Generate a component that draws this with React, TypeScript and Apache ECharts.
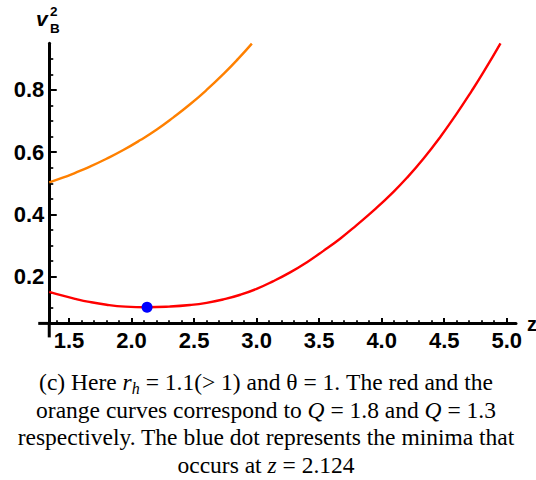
import React, { useEffect, useRef } from "react";
import * as echarts from "echarts";

// Q = 1.8 (red)
const redZ = [1.342, 1.45, 1.55, 1.65, 1.8, 1.95, 2.124, 2.3, 2.468, 2.6, 2.734, 2.87, 3.0, 3.13, 3.268, 3.4, 3.534, 3.67, 3.8, 3.95, 4.08, 4.2, 4.335, 4.47, 4.6, 4.72, 4.815, 4.95];
const redV = [0.151, 0.139, 0.129, 0.12, 0.11, 0.104, 0.102, 0.104, 0.109, 0.116, 0.127, 0.142, 0.161, 0.185, 0.214, 0.246, 0.283, 0.323, 0.366, 0.418, 0.467, 0.517, 0.58, 0.65, 0.724, 0.797, 0.858, 0.95];
// Q = 1.3 (orange)
const orangeZ = [1.342, 1.45, 1.55, 1.668, 1.8, 1.934, 2.07, 2.202, 2.335, 2.468, 2.6, 2.734, 2.85, 2.962];
const orangeV = [0.503, 0.518, 0.534, 0.554, 0.579, 0.607, 0.639, 0.673, 0.712, 0.754, 0.8, 0.851, 0.899, 0.949];
// minimum
const minZ = [2.124];
const minV = [0.102];

const xMajorTicks = [1.5, 2.0, 2.5, 3.0, 3.5, 4.0, 4.5, 5.0];
const xMinorTicks = [1.4, 1.6, 1.7, 1.8, 1.9, 2.1, 2.2, 2.3, 2.4, 2.6, 2.7, 2.8, 2.9, 3.1, 3.2, 3.3, 3.4, 3.6, 3.7, 3.8, 3.9, 4.1, 4.2, 4.3, 4.4, 4.6, 4.7, 4.8, 4.9];
const yMajorTicks = [0.2, 0.4, 0.6, 0.8];
const yMinorTicks = [0.1, 0.15, 0.25, 0.3, 0.35, 0.45, 0.5, 0.55, 0.65, 0.7, 0.75, 0.85, 0.9];

const xRange = [1.342, 5.074];
const yRange = [0.05, 0.95];

const captionLines = [
  "(c) Here {i|r}{sub|h} = 1.1(> 1) and θ = 1. The red and the",
  "orange curves correspond to {i|Q} = 1.8 and {i|Q} = 1.3",
  "respectively. The blue dot represents the minima that",
  "occurs at {i|z} = 2.124",
];

const zip = (a: number[], b: number[]) => a.map((v, i) => [v, b[i]]);

export default function App() {
  const ref = useRef<HTMLDivElement>(null);
  useEffect(() => {
    if (!ref.current) return;
    const chart = echarts.init(ref.current, undefined, { renderer: "svg" });
    const sans = "Liberation Sans, Arial, sans-serif";
    const serif = "Liberation Serif, Times New Roman, serif";
    const axisColor = "#000";
    const labelStyle = { color: "#000", fontFamily: sans, fontWeight: "bold" as const, fontSize: 22 };
    const fs = 23.5;
    const richCap = {
      i: { fontFamily: serif, fontStyle: "italic", fontSize: fs, lineHeight: 28, fill: "#000" },
      sub: { fontFamily: serif, fontStyle: "italic", fontSize: 16, lineHeight: 13, verticalAlign: "bottom", fill: "#000" },
    };
    const capY = [382, 409.5, 437, 464.5];
    chart.setOption({
      animation: false,
      backgroundColor: "#fff",
      grid: { left: 49.25, right: 20, top: 43.3, bottom: 156.6, containLabel: false },
      xAxis: [
        {
          type: "value",
          min: xRange[0],
          max: xRange[1],
          axisLine: { show: true, lineStyle: { color: axisColor, width: 3 } },
          axisTick: { show: true, inside: true, length: 5.5, customValues: xMajorTicks, lineStyle: { color: axisColor, width: 2 } },
          axisLabel: { show: true, customValues: xMajorTicks, margin: 6, formatter: (v: number) => v.toFixed(1), ...labelStyle },
          splitLine: { show: false },
        },
        {
          type: "value",
          min: xRange[0],
          max: xRange[1],
          position: "bottom",
          axisLine: { show: false },
          axisTick: { show: true, inside: true, length: 3.2, customValues: xMinorTicks, lineStyle: { color: axisColor, width: 1.7 } },
          axisLabel: { show: false },
          splitLine: { show: false },
        },
      ],
      yAxis: [
        {
          type: "value",
          min: yRange[0],
          max: yRange[1],
          axisLine: { show: true, lineStyle: { color: axisColor, width: 3 } },
          axisTick: { show: true, inside: true, length: 7.5, customValues: yMajorTicks, lineStyle: { color: axisColor, width: 2 } },
          axisLabel: { show: true, customValues: yMajorTicks, margin: 5, formatter: (v: number) => v.toFixed(1), ...labelStyle },
          splitLine: { show: false },
        },
        {
          type: "value",
          min: yRange[0],
          max: yRange[1],
          position: "left",
          axisLine: { show: false },
          axisTick: { show: true, inside: true, length: 4, customValues: yMinorTicks, lineStyle: { color: axisColor, width: 1.7 } },
          axisLabel: { show: false },
          splitLine: { show: false },
        },
      ],
      series: [
        {
          type: "line",
          name: "Q = 1.3",
          data: zip(orangeZ, orangeV),
          smooth: 0.5,
          symbol: "none",
          lineStyle: { color: "#ff8000", width: 2.4 },
          clip: true,
        },
        {
          type: "line",
          name: "Q = 1.8",
          data: zip(redZ, redV),
          smooth: 0.5,
          symbol: "none",
          lineStyle: { color: "#ff0000", width: 2.4 },
          clip: true,
        },
        {
          type: "scatter",
          name: "minimum",
          data: zip(minZ, minV),
          symbol: "circle",
          symbolSize: 11,
          itemStyle: { color: "#0000ff", opacity: 1 },
          z: 5,
        },
      ],
    });

    const o = chart.convertToPixel({ gridIndex: 0 }, [xRange[0], yRange[0]]) as number[];
    const e = chart.convertToPixel({ gridIndex: 0 }, [xRange[1], yRange[0]]) as number[];
    chart.setOption({
      graphic: [
        { type: "line", shape: { x1: o[0] - 11, y1: o[1], x2: o[0], y2: o[1] }, style: { stroke: "#000", lineWidth: 3 } },
        { type: "line", shape: { x1: o[0], y1: o[1], x2: o[0], y2: o[1] + 14 }, style: { stroke: "#000", lineWidth: 3 } },
        { type: "text", x: e[0] + 11, y: e[1] + 0.5, style: { text: "z", font: `bold 20px ${sans}`, fill: "#000", verticalAlign: "middle", align: "left" } },
        { type: "text", x: 36, y: 18.5, style: { text: "v", font: `italic bold 21px ${sans}`, fill: "#000", verticalAlign: "middle", align: "left" } },
        { type: "text", x: 50, y: 11.5, style: { text: "2", font: `bold 13.5px ${sans}`, fill: "#000", verticalAlign: "middle", align: "left" } },
        { type: "text", x: 50, y: 28.5, style: { text: "B", font: `bold 13.5px ${sans}`, fill: "#000", verticalAlign: "middle", align: "left" } },
        ...captionLines.map((t, k) => ({
          type: "text",
          x: 266,
          y: capY[k],
          style: {
            text: t,
            fontFamily: serif,
            fontSize: fs,
            lineHeight: 28,
            fill: "#000",
            align: "center",
            verticalAlign: "middle",
            rich: richCap,
          },
        })),
      ],
    });

    return () => chart.dispose();
  }, []);
  return <div ref={ref} style={{ position: "fixed", left: 0, top: 0, width: 536, height: 480 }} />;
}
